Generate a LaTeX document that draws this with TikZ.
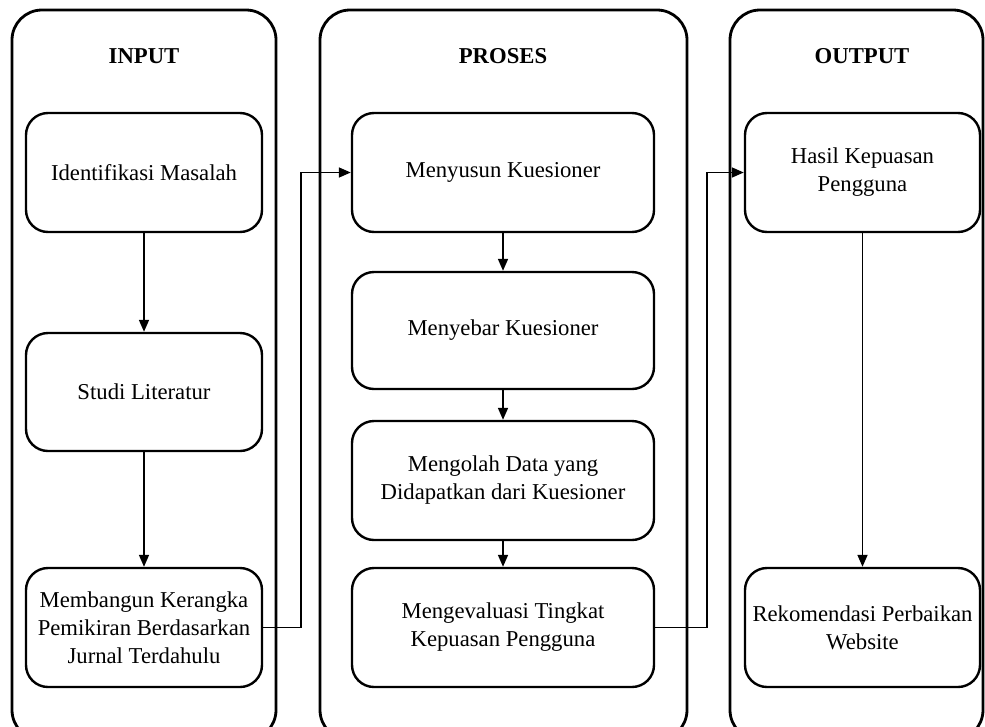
\documentclass[tikz,border=0pt]{standalone}
\usepackage{fontspec}
\setmainfont{Liberation Serif}
\usetikzlibrary{arrows.meta, positioning}

\begin{document}
\begin{tikzpicture}[x=1pt,y=-1pt,
    kolom/.style={line width=2.8pt,rounded corners=30pt},
    kotak/.style={draw,line width=2.4pt,rounded corners=22pt,align=center,inner sep=2pt,
      font=\fontsize{22.7}{28}\selectfont},
    judul/.style={font=\fontsize{22.7}{28}\selectfont\bfseries},
    panah/.style={line width=1.7pt,-{Triangle[length=12pt,width=10pt]}}]
    \useasboundingbox (0,0) rectangle (985,726);
    % kolom
    \draw[kolom] (12,10) rectangle (276,740);
    \draw[kolom] (320,10) rectangle (687,740);
    \draw[kolom] (730,10) rectangle (983,740);
    \node[judul] (tinput) at (144,56) {INPUT};
    \node[judul] (tproses) at (503,56) {PROSES};
    \node[judul] (toutput) at (862,56) {OUTPUT};
    % input
    \node[kotak,minimum width=236pt,minimum height=119pt] (ident) at (144,172.5) {Identifikasi Masalah};
    \node[kotak,minimum width=236pt,minimum height=118pt] (studi) at (144,392) {Studi Literatur};
    \node[kotak,minimum width=236pt,minimum height=119pt] (bangun) at (144,627.5)
      {Membangun Kerangka\\Pemikiran Berdasarkan\\Jurnal Terdahulu};
    % proses
    \node[kotak,minimum width=302pt,minimum height=119pt] (susun) at (503,172.5) {Menyusun Kuesioner};
    \node[kotak,minimum width=302pt,minimum height=117pt] (sebar) at (503,330.5) {Menyebar Kuesioner};
    \node[kotak,minimum width=302pt,minimum height=119pt] (olah) at (503,480.5)
      {Mengolah Data yang\\Didapatkan dari Kuesioner};
    \node[kotak,minimum width=302pt,minimum height=119pt] (evaluasi) at (503,627.5)
      {Mengevaluasi Tingkat\\Kepuasan Pengguna};
    % output
    \node[kotak,minimum width=235pt,minimum height=119pt] (hasil) at (862.5,172.5)
      {Hasil Kepuasan\\Pengguna};
    \node[kotak,minimum width=235pt,minimum height=119pt] (rekom) at (862.5,627.5)
      {Rekomendasi Perbaikan\\Website};
    % panah
    \foreach \a/\b in {ident/studi,studi/bangun,susun/sebar,sebar/olah,olah/evaluasi,hasil/rekom}
      \draw[panah] (\a.south) -- (\b.north);
    \draw[panah] (bangun.east) -- ++(38,0) |- (susun.west);
    \draw[panah] (evaluasi.east) -- ++(52,0) |- (hasil.west);
\end{tikzpicture}
\end{document}
